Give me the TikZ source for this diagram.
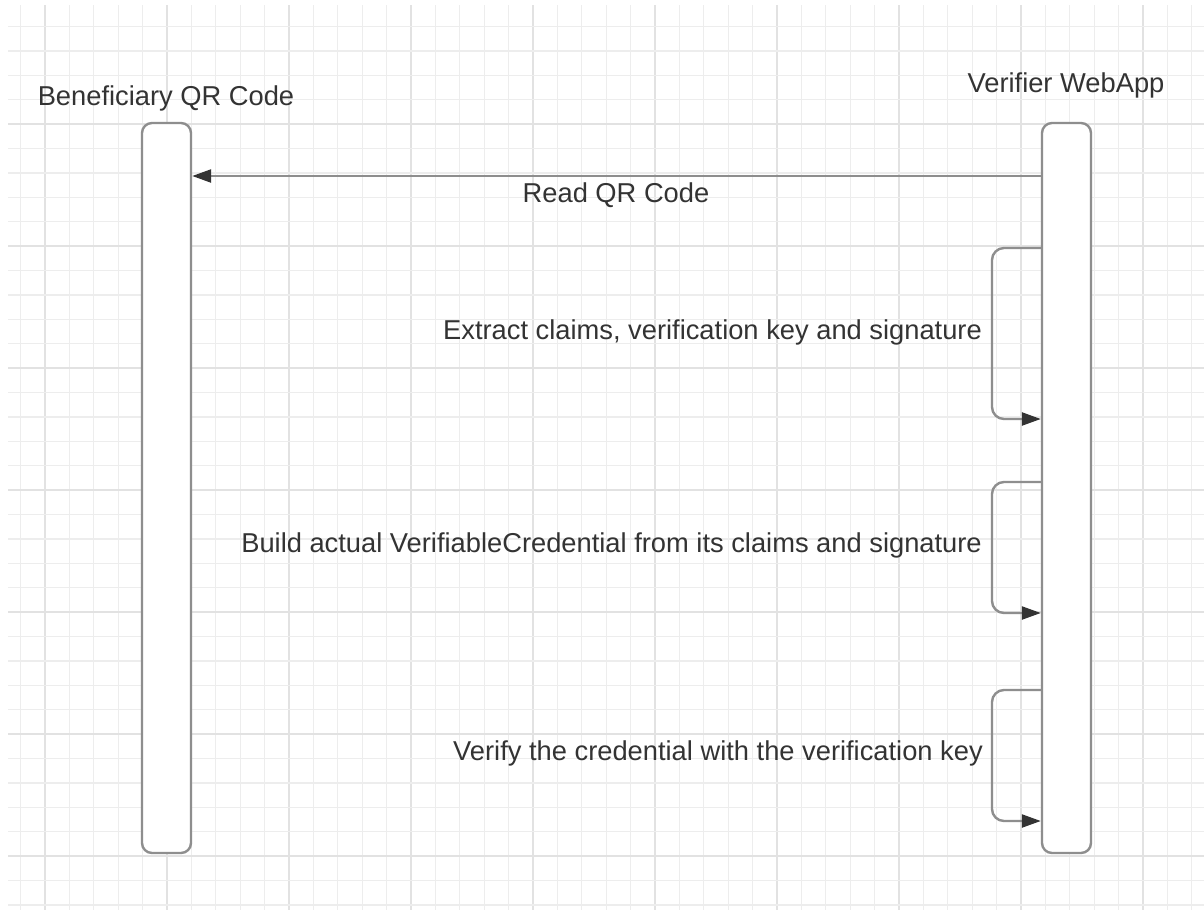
\documentclass[tikz,border=0pt]{standalone}
\usepackage{fontspec}
\setmainfont{Liberation Sans}
\usetikzlibrary{arrows.meta}
\definecolor{gridminor}{HTML}{EDEDED}
\definecolor{gridmajor}{HTML}{E2E2E2}
\definecolor{edge}{HTML}{8E8E8E}
\definecolor{txt}{HTML}{333333}
\tikzset{
  lifeline/.style={draw=edge, line width=2.4pt, fill=white, rounded corners=10pt,
    minimum width=49pt, minimum height=730pt, inner sep=0pt},
  lbl/.style={text=txt, inner sep=0pt, font=\fontsize{27.3}{31}\selectfont},
  msg/.style={draw=edge, line width=2.4pt, -{Triangle[length=19pt,width=13pt,color=txt]}},
  selfmsg/.style={msg, rounded corners=12pt},
}
\begin{document}
\begin{tikzpicture}[x=1pt,y=-1pt]
\useasboundingbox (0,0) rectangle (1204,910);
\fill[white] (0,0) rectangle (1204,910);
% grid
\begin{scope}
\clip (8,5) rectangle (1204,910);
\foreach \i in {0,...,48} {
  \pgfmathsetmacro{\xx}{20.6+24.4*\i}
  \pgfmathtruncatemacro{\mm}{mod(\i,5)}
  \ifnum\mm=1
    \draw[gridmajor, line width=1.3pt] (\xx,5) -- (\xx,910);
  \else
    \draw[gridminor, line width=1.3pt] (\xx,5) -- (\xx,910);
  \fi
}
\foreach \i in {0,...,36} {
  \pgfmathsetmacro{\yy}{26.5+24.4*\i}
  \pgfmathtruncatemacro{\mm}{mod(\i,5)}
  \ifnum\mm=4
    \draw[gridmajor, line width=1.3pt] (8,\yy) -- (1204,\yy);
  \else
    \draw[gridminor, line width=1.3pt] (8,\yy) -- (1204,\yy);
  \fi
}
\end{scope}
% lifelines
\node[lifeline] (bq) at (166.5,488) {};
\node[lifeline] (vw) at (1066.5,488) {};
\node[lbl, anchor=base] (bqt) at (166,105) {Beneficiary QR Code};
\node[lbl, anchor=base] (vwt) at (1066,92) {Verifier WebApp};
% message
\coordinate (m1) at (0,176);
\draw[msg] (vw.west |- m1) -- (bq.east |- m1);
\node[lbl, anchor=base] (m1t) at (616,202) {Read QR Code};
% self messages
\coordinate (s1a) at (0,248); \coordinate (s1b) at (0,419);
\coordinate (s2a) at (0,482); \coordinate (s2b) at (0,613);
\coordinate (s3a) at (0,690); \coordinate (s3b) at (0,821);
\coordinate (sx) at (992,0);
\draw[selfmsg] (vw.west |- s1a) -- (sx |- s1a) -- (sx |- s1b) -- (vw.west |- s1b);
\draw[selfmsg] (vw.west |- s2a) -- (sx |- s2a) -- (sx |- s2b) -- (vw.west |- s2b);
\draw[selfmsg] (vw.west |- s3a) -- (sx |- s3a) -- (sx |- s3b) -- (vw.west |- s3b);
\node[lbl, anchor=base east] (s1t) at (982,339) {Extract claims, verification key and signature};
\node[lbl, anchor=base east] (s2t) at (982,552) {Build actual VerifiableCredential from its claims and signature};
\node[lbl, anchor=base east] (s3t) at (983,760) {Verify the credential with the verification key};
\end{tikzpicture}
\end{document}
